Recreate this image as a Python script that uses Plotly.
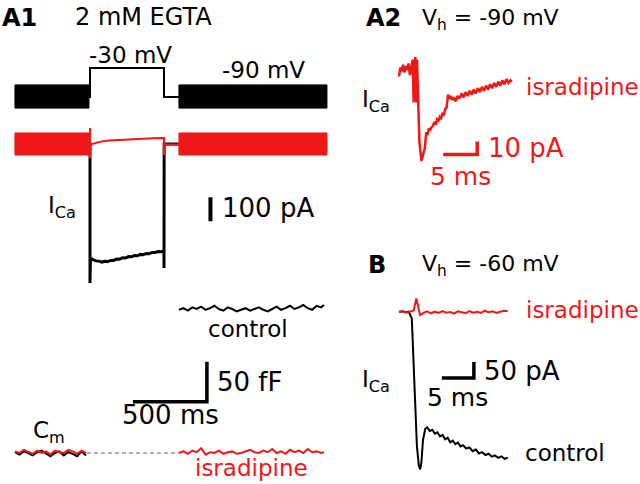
import plotly.graph_objects as go

W, H = 640, 484
RED = "rgb(238,24,24)"
BLK = "black"
FONT = "DejaVu Sans"

# ---------------- data ----------------
# A1: voltage protocol (ms, mV)
a1_v_t = [-7, 0, 0, 500, 500, 601]
a1_v_mV = [-90, -90, -30, -30, -90, -90]
a1_sine_pre_ms = [-507, -7]
a1_sine_post_ms = [601, 1601]
a1_sine_mV = [-113, -65]          # envelope of sine stimulus (low, high)

# A1: Ca current (ms, pA)
a1_ic_t = [-7, 0, 0, 3, 20, 40, 60, 80, 100, 120, 140, 160, 180, 200, 220, 240, 260,
           280, 300, 320, 340, 360, 380, 400, 420, 440, 460, 480, 500, 500, 501, 601]
a1_ic_pA = [0, 0, -579, -475, -482, -487, -488, -492, -489, -490, -485, -485, -479, -480,
            -474, -475, -469, -470, -465, -466, -460, -461, -456, -457, -452, -452, -448,
            -449, -446, -517, 0, 0]
a1_ir_t = [-7, 0, 0, 0, 2, 15, 40, 80, 130, 200, 280, 360, 430, 500, 500, 502, 601]
a1_ir_pA = [0, 0, 67, -60, -4, 0, 5, 11, 15, 18, 20, 22, 24, 25, -46, -2, -2]
a1_band_pA = [-46, 46]            # sine-evoked current envelope (low, high)

# A1: membrane capacitance (ms, fF)
cm_pre_t = [-507, -477, -447, -417, -387, -357, -327, -297, -267, -237, -207, -177,
            -147, -117, -87, -57, -27]
cm_pre_ctrl = [1, -2, 2, 0, -3, 1, 3, -1, -4, 0, 2, -3, 1, -1, -4, 2, -3]
cm_pre_isr = [2, 0, 4, 1, -1, 3, 0, 2, -2, 3, 1, 0, 4, 2, -1, 3, 0]
cm_post_t = [601, 631, 661, 691, 721, 751, 781, 811, 841, 871, 901, 931, 961, 991, 1021,
             1051, 1081, 1111, 1141, 1171, 1201, 1231, 1261, 1291, 1321, 1351, 1381,
             1411, 1441, 1471, 1501, 1531, 1561, 1581]
cm_post_ctrl = [179, 181, 178, 182, 180, 183, 179, 181, 184, 180, 178, 182, 180, 177,
                179, 181, 178, 180, 182, 179, 177, 180, 183, 179, 181, 184, 180, 182,
                185, 181, 179, 184, 182, 185]
cm_post_isr = [0, 2, -1, 3, 1, 6, -2, 1, 0, 3, -1, 1, 2, -1, 0, 2, 4, 1, 0, 3, 1, 5, 0,
               2, -1, 4, 1, 3, 0, 5, 1, 2, 0, 1]
cm_gap_t = [-20, 601]
cm_gap_fF = [0, 0]

# A2: Vh = -90 mV, isradipine (ms, pA)
a2_t = [0.0, 0.2, 0.4, 0.6, 0.8, 1.0, 1.2, 1.4, 1.6, 1.8, 2.0, 2.15, 2.3, 2.4, 2.55,
        2.65, 2.8, 3.0, 3.3, 3.5, 3.8, 4.0, 4.2, 4.4, 4.6, 4.8, 5.0, 5.2, 5.4, 5.6, 5.8,
        6.0, 6.2, 6.4, 6.6, 6.8, 7.0, 7.2, 7.4, 7.6, 7.8, 8.0, 8.3, 8.6, 8.9, 9.2, 9.5,
        9.8, 10.1, 10.4, 10.7, 11.0, 11.3, 11.6, 11.9, 12.2, 12.5, 12.8, 13.1, 13.4,
        13.7, 14.0, 14.3, 14.6, 14.9, 15.2, 15.5, 15.8, 16.1, 16.4, 16.6]
a2_pA = [-5, 2, -1, 4, -2, 3, 0, 5, -4, 4, 8, -25, 9, 10, -25, 8, -20, -55, -70, -66,
         -60, -48, -50, -45, -46, -44, -43, -40, -42, -38, -39, -36, -37, -33, -35, -30,
         -29, -19, -22, -20, -23, -21, -24, -20, -22, -18, -21, -17, -20, -16, -19, -15,
         -18, -14, -17, -13, -16, -12, -15, -11, -14, -10, -13, -9, -12, -8, -11, -7,
         -10, -8, -9]

# B: Vh = -60 mV (ms, pA)
b_red_t = [0, 0.6, 1.2, 1.8, 2.3, 2.7, 3.0, 3.3, 3.8, 4.4, 5.0, 5.6, 6.2, 6.8, 7.4, 8.0,
           8.6, 9.2, 9.8, 10.4, 11.0, 11.6, 12.2, 12.8, 13.4, 14.0, 14.6, 15.2, 15.8,
           16.4, 17.0]
b_red_pA = [0, 3, -2, 2, 5, 42, 10, -10, -3, 2, -4, 1, -3, 3, -2, 0, -5, 2, -1, -4, 3,
            -2, 1, -3, 4, -1, 2, -3, 1, 4, 2]
b_ctrl_t = [0, 0.5, 1.0, 1.5, 2.0, 2.4, 2.8, 3.1, 3.3, 3.5, 3.75, 4.1, 4.4, 4.8, 5.2,
            5.6, 6.0, 6.4, 6.8, 7.2, 7.6, 8.0, 8.4, 8.8, 9.2, 9.6, 10.0, 10.5, 11.0,
            11.5, 12.0, 12.5, 13.0, 13.5, 14.0, 14.5, 15.0, 15.5, 16.0, 16.5, 17.0]
b_ctrl_pA = [0, 2, -1, 1, -20, -200, -420, -480, -492, -470, -400, -365, -360, -372,
             -368, -380, -376, -389, -384, -398, -393, -407, -402, -413, -408, -420,
             -416, -427, -423, -435, -430, -442, -438, -447, -443, -452, -448, -456,
             -451, -459, -455]

# scale bars (lengths in data units)
a1_bar_pA = 100
a1_bar_fF = 50
a1_bar_ms = 500
a2_bar_ms, a2_bar_pA = 5, 10
b_bar_ms, b_bar_pA = 5, 50

# ---------------- figure ----------------
fig = go.Figure()


def line(x, y, xa, ya, color, width, dash=None):
    fig.add_trace(go.Scatter(x=x, y=y, xaxis=xa, yaxis=ya, mode="lines",
                             line=dict(color=color, width=width, dash=dash),
                             hoverinfo="skip", showlegend=False))


def band(trange, env, xa, ya, color):
    x = [trange[0], trange[1], trange[1], trange[0], trange[0]]
    y = [env[1], env[1], env[0], env[0], env[1]]
    fig.add_trace(go.Scatter(x=x, y=y, xaxis=xa, yaxis=ya, mode="lines", fill="toself",
                             fillcolor=color, line=dict(color=color, width=1),
                             hoverinfo="skip", showlegend=False))


# A1 voltage
band(a1_sine_pre_ms, a1_sine_mV, "x", "y", BLK)
band(a1_sine_post_ms, a1_sine_mV, "x", "y", BLK)
line(a1_v_t, a1_v_mV, "x", "y", BLK, 2)

# A1 currents
line(a1_ic_t, a1_ic_pA, "x", "y2", BLK, 3)
band(a1_sine_pre_ms, a1_band_pA, "x", "y2", RED)
band(a1_sine_post_ms, a1_band_pA, "x", "y2", RED)
line(a1_ir_t, a1_ir_pA, "x", "y2", RED, 2)
# 100 pA bar
bar_t, bar_top = 814, -222
line([bar_t, bar_t], [bar_top, bar_top - a1_bar_pA], "x", "y2", BLK, 4)

# A1 capacitance
line(cm_gap_t, cm_gap_fF, "x", "y3", "#b0b0b0", 2, "4px,3px")
line(cm_pre_t, cm_pre_ctrl, "x", "y3", BLK, 2)
line(cm_pre_t, cm_pre_isr, "x", "y3", RED, 2)
line(cm_post_t, cm_post_ctrl, "x", "y3", BLK, 2)
line(cm_post_t, cm_post_isr, "x", "y3", RED, 2)
c_t, c_f = 790, 64
line([c_t - a1_bar_ms, c_t, c_t], [c_f, c_f, c_f + a1_bar_fF], "x", "y3", BLK, 3.5)

# A2
line(a2_t, a2_pA, "x2", "y4", RED, 2.5)
s_t, s_p = 11.5, -65
line([s_t - a2_bar_ms, s_t, s_t], [s_p, s_p, s_p + a2_bar_pA], "x2", "y4", RED, 3.5)

# B
line(b_ctrl_t, b_ctrl_pA, "x3", "y5", BLK, 2)
line(b_red_t, b_red_pA, "x3", "y5", RED, 2)
s_t, s_p = 11.7, -206
line([s_t - b_bar_ms, s_t, s_t], [s_p, s_p, s_p + b_bar_pA], "x3", "y5", BLK, 3.5)


# axis ranges from pixel anchors: px = p0 + k*value ; py = q0 - k*value
def xr(p0, k):
    return [(0 - p0) / k, (W - p0) / k]


def yr(q0, k):
    return [(q0 - H) / k, q0 / k]


ax = dict(visible=False, domain=[0, 1], fixedrange=True)
fig.update_layout(
    xaxis=dict(ax, range=xr(90, 0.148), anchor="y"),
    yaxis=dict(ax, range=yr(97 - 90 * 29 / 60, 29 / 60), anchor="x"),
    yaxis2=dict(ax, range=yr(144, 0.24), anchor="x"),
    yaxis3=dict(ax, range=yr(453, 0.8), anchor="x"),
    xaxis2=dict(ax, range=xr(399, 6.8), anchor="y4"),
    yaxis4=dict(ax, range=yr(70, 1.3), anchor="x2"),
    xaxis3=dict(ax, range=xr(399, 6.4), anchor="y5"),
    yaxis5=dict(ax, range=yr(312, 0.32), anchor="x3"),
)


def label(text, px, py, size, color=BLK, xanchor="left"):
    return dict(text=text, x=px / W, y=1 - py / H, xref="paper", yref="paper",
                showarrow=False, xanchor=xanchor, yanchor="middle",
                font=dict(family=FONT, size=size, color=color))


ann = [
    label("<b>A1</b>", 0, 18, 24),
    label("2 mM EGTA", 73, 17, 24),
    label("-30 mV", 130, 55, 23, xanchor="center"),
    label("-90 mV", 263, 70, 23, xanchor="center"),
    label("I<sub>Ca</sub>", 46, 207, 23),
    label("100 pA", 220, 208, 26),
    label("control", 206, 329, 23),
    label("50 fF", 215, 382, 26),
    label("500 ms", 120, 415, 26),
    label("C<sub>m</sub>", 31, 432, 23),
    label("isradipine", 193, 468, 23, RED),
    label("<b>A2</b>", 364, 18, 24),
    label("V<sub>h</sub> = -90 mV", 420, 20, 22),
    label("I<sub>Ca</sub>", 360, 101, 23),
    label("isradipine", 524, 87, 23, RED),
    label("10 pA", 486, 148, 26, RED),
    label("5 ms", 428, 176, 25, RED),
    label("<b>B</b>", 366, 265, 24),
    label("V<sub>h</sub> = -60 mV", 420, 265, 22),
    label("isradipine", 524, 310, 23, RED),
    label("I<sub>Ca</sub>", 360, 381, 23),
    label("50 pA", 482, 371, 26),
    label("5 ms", 425, 397, 25),
    label("control", 523, 453, 23),
]

fig.update_layout(width=W, height=H, margin=dict(l=0, r=0, t=0, b=0),
                  paper_bgcolor="white", plot_bgcolor="rgba(0,0,0,0)",
                  showlegend=False, annotations=ann)

fig.write_html("out.html", config={"displayModeBar": False},
               post_script="document.body.style.margin='0';"
                           "document.body.style.overflow='hidden';")
